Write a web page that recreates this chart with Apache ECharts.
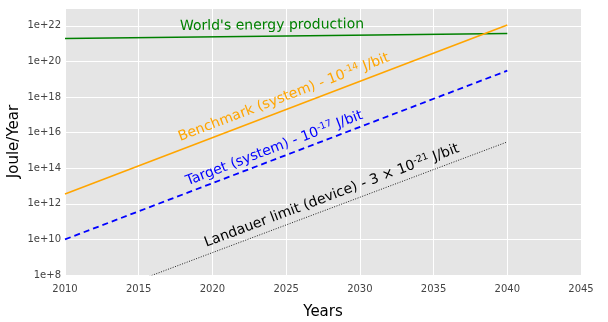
<!DOCTYPE html>
<html>
<head>
<meta charset="utf-8">
<script src="https://cdn.jsdelivr.net/npm/echarts@6/dist/echarts.min.js"></script>
<style>
html, body { margin: 0; padding: 0; background: #fff; }
#chart { width: 608px; height: 322px; }
</style>
</head>
<body>
<div id="chart"></div>
<script>
// data (J/year at the two ends)
var years = [2010, 2040];
var worldEnergy = [1.95e21, 3.7e21];
var benchmark = [3.5e12, 1.1e22];
var target = [1.0e10, 3.0e19];
var landauer = [1.4e6, 3.0e15];

var FONT = "DejaVu Sans";

function pairs(vals) {
	return years.map(function (y, i) { return [y, vals[i]]; });
}

function lineSeries(name, vals, color, width, type) {
	return {
		name: name,
		type: "line",
		data: pairs(vals),
		showSymbol: false,
		silent: true,
		clip: true,
		lineStyle: { color: color, width: width, type: type }
	};
}

var chart = echarts.init(document.getElementById("chart"), null, { renderer: "canvas" });

var option = {
	animation: false,
	backgroundColor: "#fff",
	grid: {
		left: 65, top: 8, right: 27, bottom: 47,
		containLabel: false, outerBoundsMode: "none",
		show: true, backgroundColor: "#e5e5e5", borderWidth: 0
	},
	xAxis: {
		type: "value",
		min: 2010,
		max: 2045,
		interval: 5,
		name: "Years",
		nameLocation: "middle",
		nameGap: 30,
		nameTextStyle: { fontFamily: FONT, fontSize: 15, color: "#000" },
		axisLine: { show: false },
		axisTick: { show: false },
		axisLabel: {
			fontFamily: FONT, fontSize: 10, color: "#444", margin: 9,
			formatter: function (v) { return String(v); }
		},
		splitLine: { lineStyle: { color: "#fff", width: 1 } }
	},
	yAxis: {
		type: "log",
		logBase: 100,
		min: 1e8,
		max: 1e23,
		name: "Joule/Year",
		nameLocation: "middle",
		nameGap: 43,
		nameMoveOverlap: false,
		nameTextStyle: { fontFamily: FONT, fontSize: 15, color: "#000" },
		axisLine: { show: false },
		axisTick: { show: false },
		axisLabel: {
			fontFamily: FONT, fontSize: 10, color: "#444", margin: 4,
			showMaxLabel: false,
			formatter: function (v) { return "1e+" + Math.round(Math.log(v) / Math.LN10); }
		},
		splitLine: { lineStyle: { color: "#fff", width: 1 } }
	},
	series: [
		lineSeries("World's energy production", worldEnergy, "#008000", 1.6, "solid"),
		lineSeries("Benchmark", benchmark, "#ffa500", 1.6, "solid"),
		lineSeries("Target", target, "#0000ff", 1.8, [6, 4]),
		lineSeries("Landauer", landauer, "#222", 1, [1, 1.5])
	]
};
chart.setOption(option);

// in-plot labels, centred on a data point, turned along their line
var notes = [
	{ vals: worldEnergy, x: 2024.04, y: Math.pow(10, 22.02), color: "#008000",
		text: "{n|World's energy production}" },
	{ vals: benchmark, x: 2024.85, y: Math.pow(10, 17.97), color: "#ffa500",
		text: "{n|Benchmark (system) - 10}{s|-14}{n| J/bit}" },
	{ vals: target, x: 2024.2, y: Math.pow(10, 15.11), color: "#0000ff",
		text: "{n|Target (system) - 10}{s|-17}{n| J/bit}" },
	{ vals: landauer, x: 2028.1, y: Math.pow(10, 12.45), color: "#000",
		text: "{n|Landauer limit (device) - 3 \u00d7 10}{s|-21}{n| J/bit}" }
];

var graphics = notes.map(function (nt) {
	var a = chart.convertToPixel({ gridIndex: 0 }, [years[0], nt.vals[0]]);
	var b = chart.convertToPixel({ gridIndex: 0 }, [years[1], nt.vals[1]]);
	var p = chart.convertToPixel({ gridIndex: 0 }, [nt.x, nt.y]);
	var ang = Math.atan2(a[1] - b[1], b[0] - a[0]);
	return {
		type: "text",
		x: p[0],
		y: p[1],
		rotation: ang,
		silent: true,
		style: {
			text: nt.text,
			align: "center",
			verticalAlign: "middle",
			rich: {
				n: { fontFamily: FONT, fontSize: 14, fill: nt.color, lineHeight: 17 },
				s: { fontFamily: FONT, fontSize: 9.5, fill: nt.color, verticalAlign: "top", lineHeight: 17 }
			}
		}
	};
});
chart.setOption({ graphic: graphics });
</script>
</body>
</html>
